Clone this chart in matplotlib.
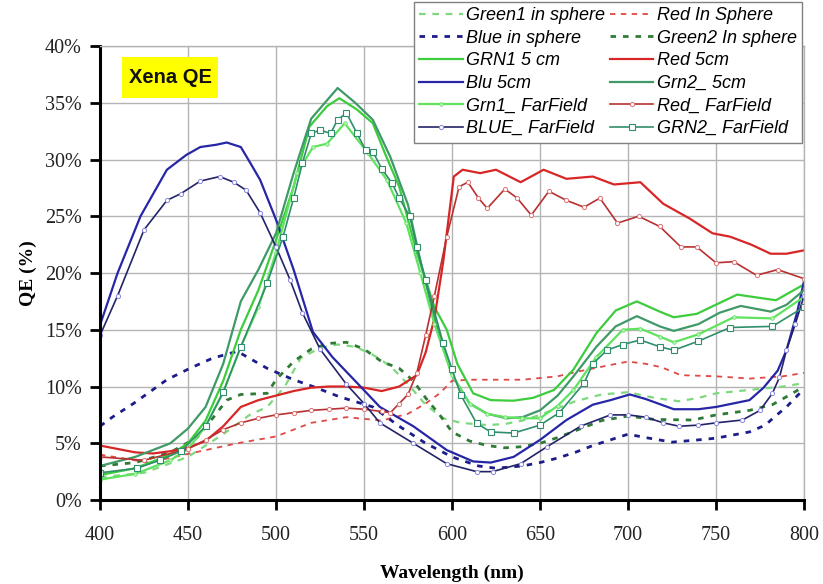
import matplotlib
matplotlib.use("Agg")
import matplotlib.pyplot as plt
from matplotlib.patches import Rectangle
from matplotlib.ticker import MultipleLocator, FuncFormatter

# ------- data (wavelength in nm, QE in %)
wl_g1_sph = [400, 425, 450, 470, 485, 495, 505, 514, 525, 535, 545, 555, 565, 575, 585, 595, 605, 620,
             630, 640, 650, 660, 670, 685, 700, 715, 729, 740, 750, 769, 788, 800]
qe_g1_sph = [2.0, 2.4, 3.8, 5.8, 7.5, 8.2, 10.0, 12.5, 13.4, 13.7, 13.5, 12.8, 11.8, 10.2, 8.4, 7.2, 6.8, 6.6,
             6.7, 7.0, 7.5, 8.1, 8.7, 9.3, 9.5, 9.0, 8.7, 9.0, 9.4, 9.7, 10.0, 10.3]

wl_r_sph = [400, 428, 451, 478, 500, 520, 540, 560, 575, 585, 593, 600, 610, 640, 660, 671, 690, 700,
            710, 719, 730, 750, 769, 788, 800]
qe_r_sph = [4.0, 3.3, 4.1, 5.0, 5.6, 6.8, 7.3, 7.0, 7.6, 8.5, 9.4, 10.5, 10.6, 10.6, 10.9, 11.3, 11.9, 12.2,
            12.0, 11.7, 11.0, 10.9, 10.7, 10.9, 11.2]

wl_b_sph = [400, 407, 419, 438, 451, 464, 478, 495, 510, 521, 536, 555, 570, 585, 600, 615, 625, 640,
            650, 660, 670, 680, 690, 700, 710, 725, 740, 750, 769, 778, 783, 790, 800]
qe_b_sph = [6.5, 7.3, 8.5, 10.6, 11.6, 12.5, 13.1, 11.6, 10.6, 10.0, 9.1, 8.2, 6.5, 5.0, 3.8, 3.0, 2.8, 3.0,
            3.3, 3.7, 4.2, 4.8, 5.3, 5.8, 5.5, 5.1, 5.3, 5.45, 6.0, 6.6, 7.3, 8.2, 9.8]

wl_g2_sph = [400, 420, 440, 455, 464, 472, 480, 495, 500, 510, 520, 530, 540, 550, 560, 570, 578, 585,
             593, 600, 610, 620, 630, 640, 650, 660, 670, 685, 700, 715, 737, 750, 769, 782, 790, 800]
qe_g2_sph = [3.0, 3.3, 4.2, 5.5, 7.2, 8.8, 9.3, 9.4, 10.6, 12.2, 13.3, 13.8, 13.9, 13.3, 12.2, 11.6, 10.5, 9.0,
             7.5, 6.0, 5.2, 4.8, 4.6, 4.7, 5.0, 5.5, 6.1, 7.0, 7.4, 7.1, 7.05, 7.5, 7.9, 8.4, 9.1, 10.0]

wl_grn1_5 = [400, 420, 440, 450, 460, 470, 480, 490, 500, 510, 519, 529, 536, 546, 555, 562, 570, 580,
             590, 597, 603, 612, 622, 635, 646, 658, 669, 682, 693, 705, 718, 726, 739, 762, 784, 800]
qe_grn1_5 = [2.2, 2.8, 4.0, 5.0, 7.0, 10.5, 15.0, 18.5, 22.9, 27.6, 32.9, 34.7, 35.4, 34.4, 33.2, 30.5, 27.6, 21.8,
             17.0, 15.0, 12.0, 9.4, 8.8, 8.75, 9.0, 9.7, 11.5, 14.7, 16.7, 17.5, 16.6, 16.1, 16.4, 18.1, 17.6, 19.0]

wl_red_5 = [400, 410, 420, 430, 440, 450, 460, 470, 480, 490, 500, 510, 520, 530, 540, 550, 560, 570,
            580, 585, 590, 595, 601, 606, 616, 625, 639, 652, 665, 680, 692, 707, 720, 735, 748, 758,
            770, 781, 790, 800]
qe_red_5 = [4.8, 4.5, 4.2, 4.1, 4.3, 4.6, 5.2, 6.5, 8.2, 8.8, 9.2, 9.6, 9.9, 10.0, 10.0, 9.9, 9.6, 10.0,
            11.0, 13.0, 16.0, 21.0, 28.5, 29.1, 28.8, 29.1, 28.0, 29.1, 28.3, 28.5, 27.8, 28.0, 26.1, 24.8, 23.5, 23.2,
            22.5, 21.7, 21.7, 22.0]

wl_blu_5 = [400, 410, 423, 438, 449, 457, 466, 472, 480, 485, 491, 500, 510, 521, 532, 548, 559, 578,
            597, 612, 622, 635, 650, 665, 680, 690, 701, 710, 726, 740, 750, 769, 777, 785, 790, 796, 800]
qe_blu_5 = [15.4, 20.0, 25.0, 29.1, 30.4, 31.1, 31.3, 31.5, 31.1, 29.8, 28.2, 24.7, 20.3, 14.8, 12.6, 10.0, 8.2, 6.5,
            4.4, 3.4, 3.3, 3.8, 5.3, 7.05, 8.4, 8.8, 9.3, 8.9, 8.0, 8.0, 8.2, 8.8, 9.9, 11.4, 13.2, 16.5, 19.3]

wl_grn2_5 = [400, 420, 440, 450, 460, 470, 480, 490, 500, 510, 520, 530, 535, 545, 555, 565, 575, 582,
             590, 600, 610, 620, 631, 640, 650, 660, 669, 682, 693, 705, 718, 726, 740, 752, 764, 781, 790, 800]
qe_grn2_5 = [3.0, 3.8, 5.0, 6.3, 8.2, 12.0, 17.5, 20.3, 23.5, 28.8, 33.6, 35.4, 36.3, 35.0, 33.5, 30.2, 26.0, 21.1,
             16.0, 11.0, 8.5, 7.6, 7.2, 7.3, 7.9, 9.2, 10.9, 13.5, 15.3, 16.2, 15.3, 14.9, 15.5, 16.5, 17.1, 16.6, 17.2, 18.5]

wl_grn1_ff = [400, 420, 440, 450, 460, 470, 480, 490, 500, 512, 521, 529, 539, 552, 563, 574, 582, 590,
              600, 610, 620, 630, 640, 650, 660, 669, 682, 697, 707, 718, 726, 740, 760, 782, 800]
qe_grn1_ff = [1.8, 2.3, 3.5, 4.5, 6.5, 9.5, 13.5, 17.0, 21.8, 28.8, 31.1, 31.4, 33.2, 30.6, 28.2, 24.4, 20.0, 15.5,
              11.0, 8.5, 7.6, 7.3, 7.2, 7.2, 8.3, 9.7, 12.6, 15.0, 15.1, 14.4, 13.9, 14.6, 16.1, 16.0, 17.9]

wl_red_ff = [400, 425, 450, 460, 470, 480, 490, 500, 510, 520, 530, 540, 550, 560, 565, 570, 575, 580,
             585, 590, 597, 604, 609, 615, 620, 630, 637, 645, 655, 665, 675, 684, 694, 706, 718, 730,
             739, 750, 760, 773, 785, 800]
qe_red_ff = [3.8, 3.5, 4.5, 5.3, 6.2, 6.8, 7.2, 7.5, 7.7, 7.9, 8.0, 8.1, 8.0, 7.8, 7.7, 8.5, 9.3, 11.2,
             14.5, 18.0, 23.2, 27.6, 28.0, 26.6, 25.7, 27.4, 26.6, 25.1, 27.2, 26.4, 25.8, 26.6, 24.4, 25.0, 24.1, 22.3,
             22.3, 20.9, 21.0, 19.8, 20.3, 19.5]

wl_blue_ff = [400, 410, 425, 438, 446, 457, 468, 476, 483, 491, 500, 508, 515, 525, 540, 550, 559, 578,
              597, 614, 623, 639, 654, 673, 690, 700, 710, 720, 729, 740, 750, 765, 775, 782, 786, 790, 795, 800]
qe_blue_ff = [14.5, 18.0, 23.8, 26.4, 27.0, 28.1, 28.5, 28.0, 27.3, 25.3, 22.3, 19.4, 16.5, 13.3, 10.2, 8.5, 6.8, 5.0,
              3.2, 2.5, 2.5, 3.2, 4.7, 6.5, 7.5, 7.5, 7.3, 6.8, 6.5, 6.6, 6.8, 7.05, 7.9, 9.4, 10.8, 13.2, 15.5, 18.0]

wl_grn2_ff = [400, 421, 434, 446, 460, 470, 480, 495, 504, 510, 515, 520, 525, 531, 535, 540, 546, 551,
              555, 560, 566, 570, 576, 580, 585, 595, 600, 605, 614, 622, 635, 650, 661, 675, 680, 688,
              697, 707, 718, 726, 740, 758, 782, 800]
qe_grn2_ff = [2.4, 2.8, 3.5, 4.3, 6.5, 9.5, 13.5, 19.1, 23.2, 26.6, 29.7, 32.3, 32.6, 32.3, 33.5, 34.1, 32.3, 30.8,
              30.7, 29.2, 27.9, 26.6, 25.0, 22.3, 19.4, 13.8, 11.5, 9.25, 6.75, 6.0, 5.9, 6.6, 7.7, 10.3, 12.0, 13.2,
              13.7, 14.1, 13.5, 13.2, 14.0, 15.2, 15.3, 17.0]

# ------- figure
fig = plt.figure(figsize=(8.23, 5.84), dpi=100)
ax = fig.add_axes([0.1215, 0.1438, 0.8555, 0.7774])

l_g1s, = ax.plot(wl_g1_sph, qe_g1_sph, color='#7ed87e', lw=1.6, ls=(0, (3, 3)), label='Green1 in sphere')
l_rs, = ax.plot(wl_r_sph, qe_r_sph, color='#e04848', lw=1.3, ls=(0, (3, 3)), label='Red In Sphere')
l_bs, = ax.plot(wl_b_sph, qe_b_sph, color='#1c1c8a', lw=2.0, ls=(0, (2, 2.5)), label='Blue in sphere')
l_g2s, = ax.plot(wl_g2_sph, qe_g2_sph, color='#2f7a34', lw=2.0, ls=(0, (2, 2.5)), label='Green2 In sphere')

l_g15, = ax.plot(wl_grn1_5, qe_grn1_5, color='#3ccc3c', lw=1.6, label='GRN1 5 cm')
l_r5, = ax.plot(wl_red_5, qe_red_5, color='#d82626', lw=1.6, label='Red 5cm')
l_b5, = ax.plot(wl_blu_5, qe_blu_5, color='#2626a6', lw=1.6, label='Blu 5cm')
l_g25, = ax.plot(wl_grn2_5, qe_grn2_5, color='#3f9a68', lw=1.6, label='Grn2_ 5cm')

l_g1f, = ax.plot(wl_grn1_ff, qe_grn1_ff, color='#5fe35f', lw=1.6, marker='o', ms=2.5,
                 mfc='#c8f5c8', mec='#5fe35f', mew=0.6, label='Grn1_ FarField')
l_rf, = ax.plot(wl_red_ff, qe_red_ff, color='#b83030', lw=1.2, marker='o', ms=3,
                mfc='white', mec='#e07070', mew=0.7, label='Red_ FarField')
l_bf, = ax.plot(wl_blue_ff, qe_blue_ff, color='#23236a', lw=1.2, marker='o', ms=3,
                mfc='white', mec='#8888dd', mew=0.7, label='BLUE_ FarField')
l_g2f, = ax.plot(wl_grn2_ff, qe_grn2_ff, color='#2f8f6a', lw=1.2, marker='s', ms=4,
                 mfc='white', mec='#2f8f6a', mew=0.8, label='GRN2_ FarField')

ax.set_xlim(400, 800)
ax.set_ylim(0, 40)
ax.xaxis.set_major_locator(MultipleLocator(50))
ax.yaxis.set_major_locator(MultipleLocator(5))
ax.yaxis.set_major_formatter(FuncFormatter(lambda v, p: '%d%%' % round(v)))

ax.grid(True, color='#b4b4b4', lw=1.0)
ax.set_axisbelow(True)
for s in ['top', 'right']:
    ax.spines[s].set_color('#b4b4b4')
    ax.spines[s].set_linewidth(1.0)
for s in ['left', 'bottom']:
    ax.spines[s].set_color('black')
    ax.spines[s].set_linewidth(2.2)

serif = 'Liberation Serif'
ax.tick_params(axis='both', direction='out', length=7, width=2, color='black')
ax.tick_params(axis='y', pad=6)
ax.tick_params(axis='x', pad=12)
for t in ax.get_xticklabels() + ax.get_yticklabels():
    t.set_fontfamily(serif)
    t.set_fontsize(14.5)
    t.set_color('#222222')

ax.set_xlabel('Wavelength (nm)', fontfamily=serif, fontsize=14, fontweight='bold', labelpad=14)
ax.set_ylabel('QE (%)', fontfamily=serif, fontsize=14, fontweight='bold', labelpad=6)

# yellow label box
ax.add_patch(Rectangle((0.031, 0.885), 0.137, 0.091, transform=ax.transAxes,
                       fc='#ffff00', ec='none', zorder=5))
ax.text(0.0995, 0.930, 'Xena QE', transform=ax.transAxes, ha='center', va='center',
        fontfamily='Liberation Sans', fontsize=14.5, fontweight='bold', color='#111111', zorder=6)

# legend, filled column by column
handles = [l_g1s, l_bs, l_g15, l_b5, l_g1f, l_bf, l_rs, l_g2s, l_r5, l_g25, l_rf, l_g2f]
leg = fig.legend(handles=handles, labels=[h.get_label() for h in handles], ncol=2,
                 loc='upper left', bbox_to_anchor=(0.503, 0.997), frameon=True, fancybox=False,
                 handlelength=2.4, handletextpad=0.2, columnspacing=0.25, labelspacing=0.31,
                 borderpad=0.3, borderaxespad=0.0,
                 prop={'family': 'Liberation Sans', 'style': 'italic', 'size': 13})
leg.get_frame().set_edgecolor('#808080')
leg.get_frame().set_linewidth(1.0)
leg.get_frame().set_alpha(1)

plt.savefig('out.png', dpi=100)
